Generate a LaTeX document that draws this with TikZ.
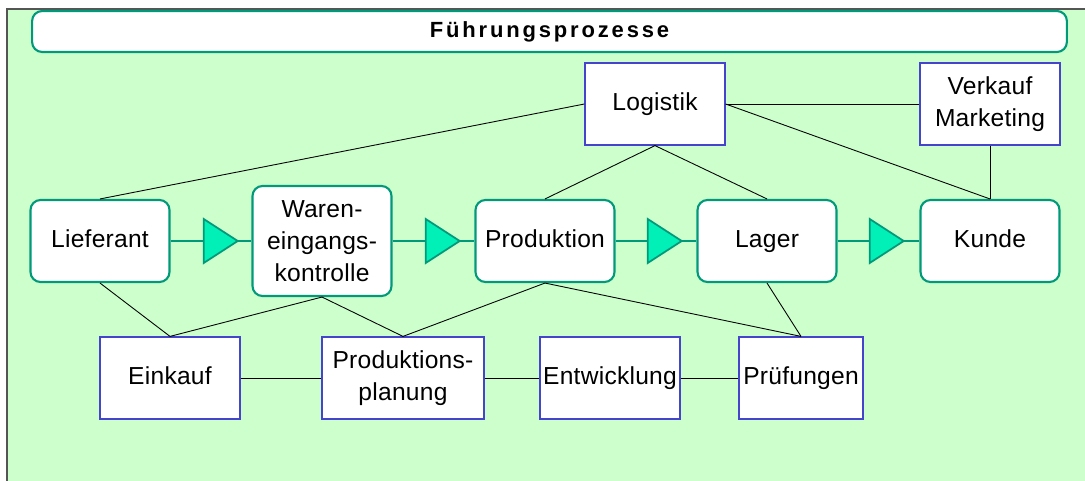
\documentclass[tikz,border=0pt]{standalone}
\usepackage{fontspec}
\setmainfont{Liberation Sans}[LetterSpace=1]
\usetikzlibrary{shapes.geometric}
\definecolor{bggreen}{HTML}{CCFFCC}
\definecolor{procgreen}{HTML}{00997A}
\definecolor{tipgreen}{HTML}{00F0B8}
\definecolor{taskblue}{HTML}{4444CC}
\definecolor{framegray}{HTML}{555555}
\tikzset{
  proc/.style={draw=procgreen, line width=1.2pt, fill=white, rounded corners=0.2cm,
    minimum width=2.78cm, minimum height=1.64cm, align=center, inner sep=0pt,
    font=\fontsize{14}{18.2}\selectfont},
  task/.style={draw=taskblue, line width=0.7pt, fill=white,
    minimum width=2.8cm, minimum height=1.64cm, align=center, inner sep=0pt,
    font=\fontsize{14}{18.2}\selectfont},
  oneline/.style={text height=0.8em, text depth=0.08em},
  flowtip/.style={isosceles triangle, isosceles triangle stretches, shape border rotate=0,
    minimum width=0.88cm, minimum height=0.68cm, inner sep=0pt, anchor=apex,
    fill=tipgreen, draw=procgreen, line width=1pt},
  link/.style={black, line width=0.5pt},
  flow/.style={procgreen, line width=1.2pt}
}
\begin{document}
\begin{tikzpicture}[x=0.02cm, y=-0.02cm]
\useasboundingbox (0,0) rectangle (1085,480);
\clip (0,0) rectangle (1085,480);
% backdrop and frame
\fill[bggreen] (7,9) rectangle (1090,485);
\draw[framegray, line width=1.2pt] (7,485) -- (7,9) -- (1090,9);

% title bar
\node[proc, oneline, minimum width=20.7cm, minimum height=0.82cm,
  font=\fontsize{12.5}{14}\selectfont\bfseries\addfontfeatures{LetterSpace=13}] (title) at (549.5,31.5) {Führungsprozesse};

% main chain
\node[proc, oneline] (lief) at (100,241) {Lieferant};
\node[proc, minimum height=2.2cm] (waren) at (322,241) {Waren-\\eingangs-\\kontrolle};
\node[proc, oneline] (prod) at (545,241) {Produktion};
\node[proc, oneline] (lager) at (767,241) {Lager};
\node[proc, oneline] (kunde) at (990,241) {Kunde};

% upper tasks
\node[task, oneline] (logistik) at (655,104) {Logistik};
\node[task] (verkauf) at (990,104) {Verkauf\\Marketing};

% lower tasks
\node[task, oneline] (einkauf) at (170,378) {Einkauf};
\node[task, minimum width=3.24cm] (planung) at (403,378) {Produktions-\\planung};
\node[task, oneline] (entw) at (610,378) {Entwicklung};
\node[task, oneline, minimum width=2.48cm] (pruef) at (801,378) {Prüfungen};

% links
\draw[link] (logistik.west) -- (lief.north);
\draw[link] (logistik.south) -- (prod.north);
\draw[link] (logistik.south) -- (lager.north);
\draw[link] (logistik.east) -- (verkauf.west);
\draw[link] (logistik.east) -- (kunde.north);
\draw[link] (verkauf.south) -- (kunde.north);
\draw[link] (lief.south) -- (einkauf.north);
\draw[link] (waren.south) -- (einkauf.north);
\draw[link] (waren.south) -- (planung.north);
\draw[link] (prod.south) -- (planung.north);
\draw[link] (prod.south) -- (pruef.north);
\draw[link] (lager.south) -- (pruef.north);
\draw[link] (einkauf) -- (planung);
\draw[link] (planung) -- (entw);
\draw[link] (entw) -- (pruef);

% flow with arrow triangles
\foreach \a/\b/\x [count=\i] in {lief/waren/240, waren/prod/462, prod/lager/684, lager/kunde/906} {
  \draw[flow] (\a.east) -- (\b.west);
  \node[flowtip] (tip\i) at (\x,241) {};
}
\end{tikzpicture}
\end{document}
